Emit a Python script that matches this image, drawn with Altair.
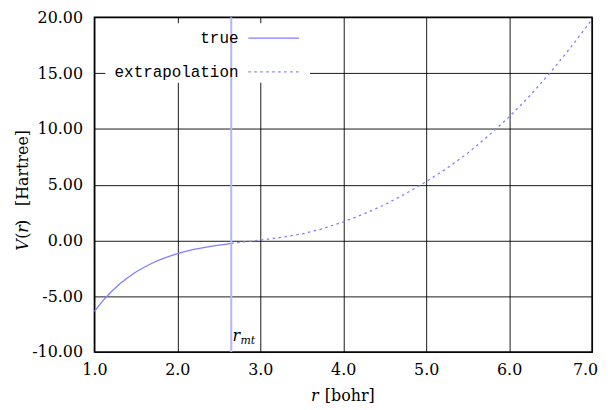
import altair as alt
import pandas as pd

# ---- data ----
r_true = [1.0, 1.1, 1.2, 1.3, 1.4, 1.5, 1.6, 1.7, 1.8, 1.9, 2.0,
          2.1, 2.2, 2.3, 2.4, 2.5, 2.6, 2.65]
v_true = [-6.35, -5.42, -4.62, -3.93, -3.34, -2.83, -2.40, -2.02, -1.70, -1.43, -1.19,
          -0.98, -0.81, -0.66, -0.53, -0.42, -0.32, -0.27]

r_extrap = [2.65, 2.8, 3.0, 3.25, 3.5, 3.75, 4.0, 4.25, 4.5, 4.75, 5.0,
            5.25, 5.5, 5.75, 6.0, 6.25, 6.5, 6.75, 7.0]
v_extrap = [-0.27, -0.13, 0.03, 0.27, 0.58, 1.05, 1.66, 2.38, 3.2, 4.18, 5.27,
            6.47, 7.82, 9.37, 11.07, 12.97, 15.07, 17.37, 19.82]

r_mt = 2.65
x_ticks = [1, 2, 3, 4, 5, 6, 7]
y_ticks = [-10, -5, 0, 5, 10, 15, 20]
legend_labels = ["true", "extrapolation"]

LINE = "#7f7fff"
RULE = "#b4b4ff"
SERIF = "DejaVu Serif"
MONO = "Liberation Mono"

df_true = pd.DataFrame({"r": r_true, "V": v_true})
df_ext = pd.DataFrame({"r": r_extrap, "V": v_extrap})
df_mt = pd.DataFrame({"r": [r_mt]})
one = pd.DataFrame({"k": [0]})

x_scale = alt.Scale(domain=[1, 7], nice=False, zero=False)
y_scale = alt.Scale(domain=[-10, 20], nice=False, zero=False)

x_axis = alt.Axis(values=x_ticks, format=".1f", title=None, grid=True, ticks=False,
                  domain=False, labelPadding=10, labelFlush=False,
                  labelOffset={"condition": {"test": "datum.value == 7", "value": -7}, "value": 0})
y_axis = alt.Axis(values=y_ticks, format=".2f", title=None, grid=True, ticks=False,
                  domain=False, labelPadding=12, labelFlush=False,
                  labelExpr="replace(datum.label, '\u2212', '-')")

X = alt.X("r:Q", scale=x_scale, axis=x_axis)
Y = alt.Y("V:Q", scale=y_scale, axis=y_axis)

box = alt.Chart(one).mark_rect(color="white").encode(
    x=alt.value(11), x2=alt.value(217), y=alt.value(6), y2=alt.value(66))

true_line = alt.Chart(df_true).mark_line(color=LINE, strokeWidth=1.3).encode(x=X, y=Y)
ext_line = alt.Chart(df_ext).mark_line(color=LINE, strokeWidth=1.3, strokeDash=[2.5, 3.5]).encode(x=X, y=Y)
mt_rule = alt.Chart(df_mt).mark_rule(color=RULE, strokeWidth=2).encode(x=X)

def txt(s, x, y, size=16, font=SERIF, style="normal", align="left", baseline="alphabetic", angle=0):
    return alt.Chart(one).mark_text(text=s, font=font, fontSize=size, fontStyle=style,
                                    align=align, baseline=baseline, angle=angle,
                                    color="black").encode(x=alt.value(x), y=alt.value(y))

leg1 = txt(legend_labels[0], 145, 21, size=16, font=MONO, align="right", baseline="middle")
leg2 = txt(legend_labels[1], 145, 55, size=16, font=MONO, align="right", baseline="middle")
samp1 = alt.Chart(one).mark_rule(color=LINE, strokeWidth=1.3).encode(
    x=alt.value(155), x2=alt.value(206), y=alt.value(21))
samp2 = alt.Chart(one).mark_rule(color=LINE, strokeWidth=1.3, strokeDash=[2.5, 3.5]).encode(
    x=alt.value(155), x2=alt.value(206), y=alt.value(55))

mt_r = txt("r", 139, 326, style="italic")
mt_sub = txt("mt", 147, 329, size=11, style="italic")

xt_r = txt("r", 218, 386, style="italic")
xt_b = txt("[bohr]", 232, 386)

yt_V = txt("V", -67, 235, style="italic", angle=270)
yt_p1 = txt("(", -67, 223, angle=270)
yt_r = txt("r", -67, 217, style="italic", angle=270)
yt_p2 = txt(")", -67, 210, angle=270)
yt_h = txt("[Hartree]", -67, 190, angle=270)

chart = alt.layer(
    box, true_line, ext_line, mt_rule, leg1, leg2, samp1, samp2,
    mt_r, mt_sub, xt_r, xt_b, yt_V, yt_p1, yt_r, yt_p2, yt_h
).properties(
    width=501, height=337,
    autosize=alt.AutoSizeParams(type="none"),
    padding={"left": 87, "top": 8, "right": 8, "bottom": 55},
).configure_view(
    stroke="black", strokeWidth=1.5
).configure_axis(
    labelFont=SERIF, labelFontSize=16, labelColor="black",
    gridColor="black", gridWidth=1, gridOpacity=0.9
)

chart.save("out.html", embed_options={"renderer": "svg", "actions": False})
